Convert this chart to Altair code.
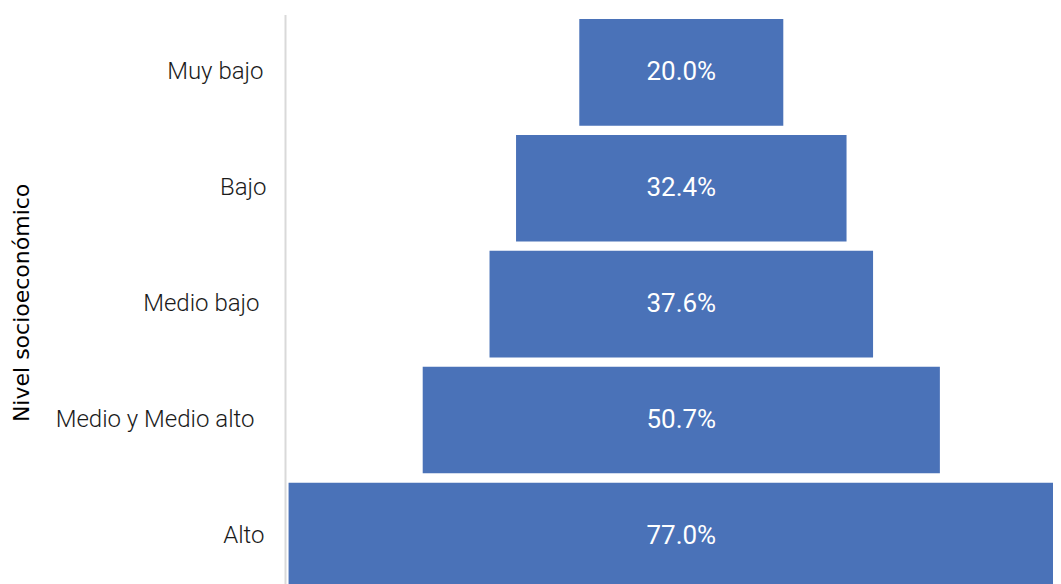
import altair as alt
import pandas as pd

# Data
categories = ["Muy bajo", "Bajo", "Medio bajo", "Medio y Medio alto", "Alto"]
values = [20.0, 32.4, 37.6, 50.7, 77.0]
labels = ["20.0%", "32.4%", "37.6%", "50.7%", "77.0%"]

df = pd.DataFrame({
    "nivel": categories,
    "valor": values,
    "etiqueta": labels,
})
df["inicio"] = -df["valor"] / 2
df["fin"] = df["valor"] / 2

label_padding = {
    "condition": [
        {"test": "datum.value == 'Muy bajo'", "value": 22},
        {"test": "datum.value == 'Medio bajo'", "value": 26},
        {"test": "datum.value == 'Medio y Medio alto'", "value": 31},
        {"test": "datum.value == 'Alto'", "value": 21},
    ],
    "value": 19,
}

y_enc = alt.Y(
    "nivel:N",
    sort=categories,
    scale=alt.Scale(paddingInner=0.08, paddingOuter=0.04, range=[0, 579.5]),
    axis=alt.Axis(
        title="Nivel socioeconómico",
        domain=True,
        domainColor="#d9d9d9",
        domainWidth=2,
        ticks=False,
        grid=False,
        labelFont="Roboto",
        labelFontWeight=300,
        labelFontSize=24,
        labelColor="#1a1a1a",
        labelPadding=label_padding,
        labelLimit=0,
        titleFont="DejaVu Sans",
        titleFontSize=22,
        titleFontWeight="normal",
        titleColor="#000000",
        titleAngle=-90,
        titleAlign="center",
        titleBaseline="alphabetic",
        titleX=-257,
        titleY=288,
    ),
)

x_scale = alt.Scale(domain=[-38.85, 36.44], nice=False, zero=False)

bars = alt.Chart(df).mark_bar(color="#4a72b8", clip=True).encode(
    y=y_enc,
    x=alt.X("inicio:Q", scale=x_scale, axis=None),
    x2="fin:Q",
)

text = alt.Chart(df).mark_text(
    color="white", font="Roboto", fontSize=26, baseline="middle", align="center"
).encode(
    y=alt.Y("nivel:N", sort=categories),
    x=alt.datum(0),
    text="etiqueta:N",
)

chart = alt.layer(bars, text).properties(
    width=768,
    height=569.6,
    padding={"left": 277, "top": 6.4, "right": 0, "bottom": 0},
    autosize=alt.AutoSizeParams(type="none"),
).configure_view(stroke=None)

chart.save("out.html", embed_options={"renderer": "svg", "actions": False})
